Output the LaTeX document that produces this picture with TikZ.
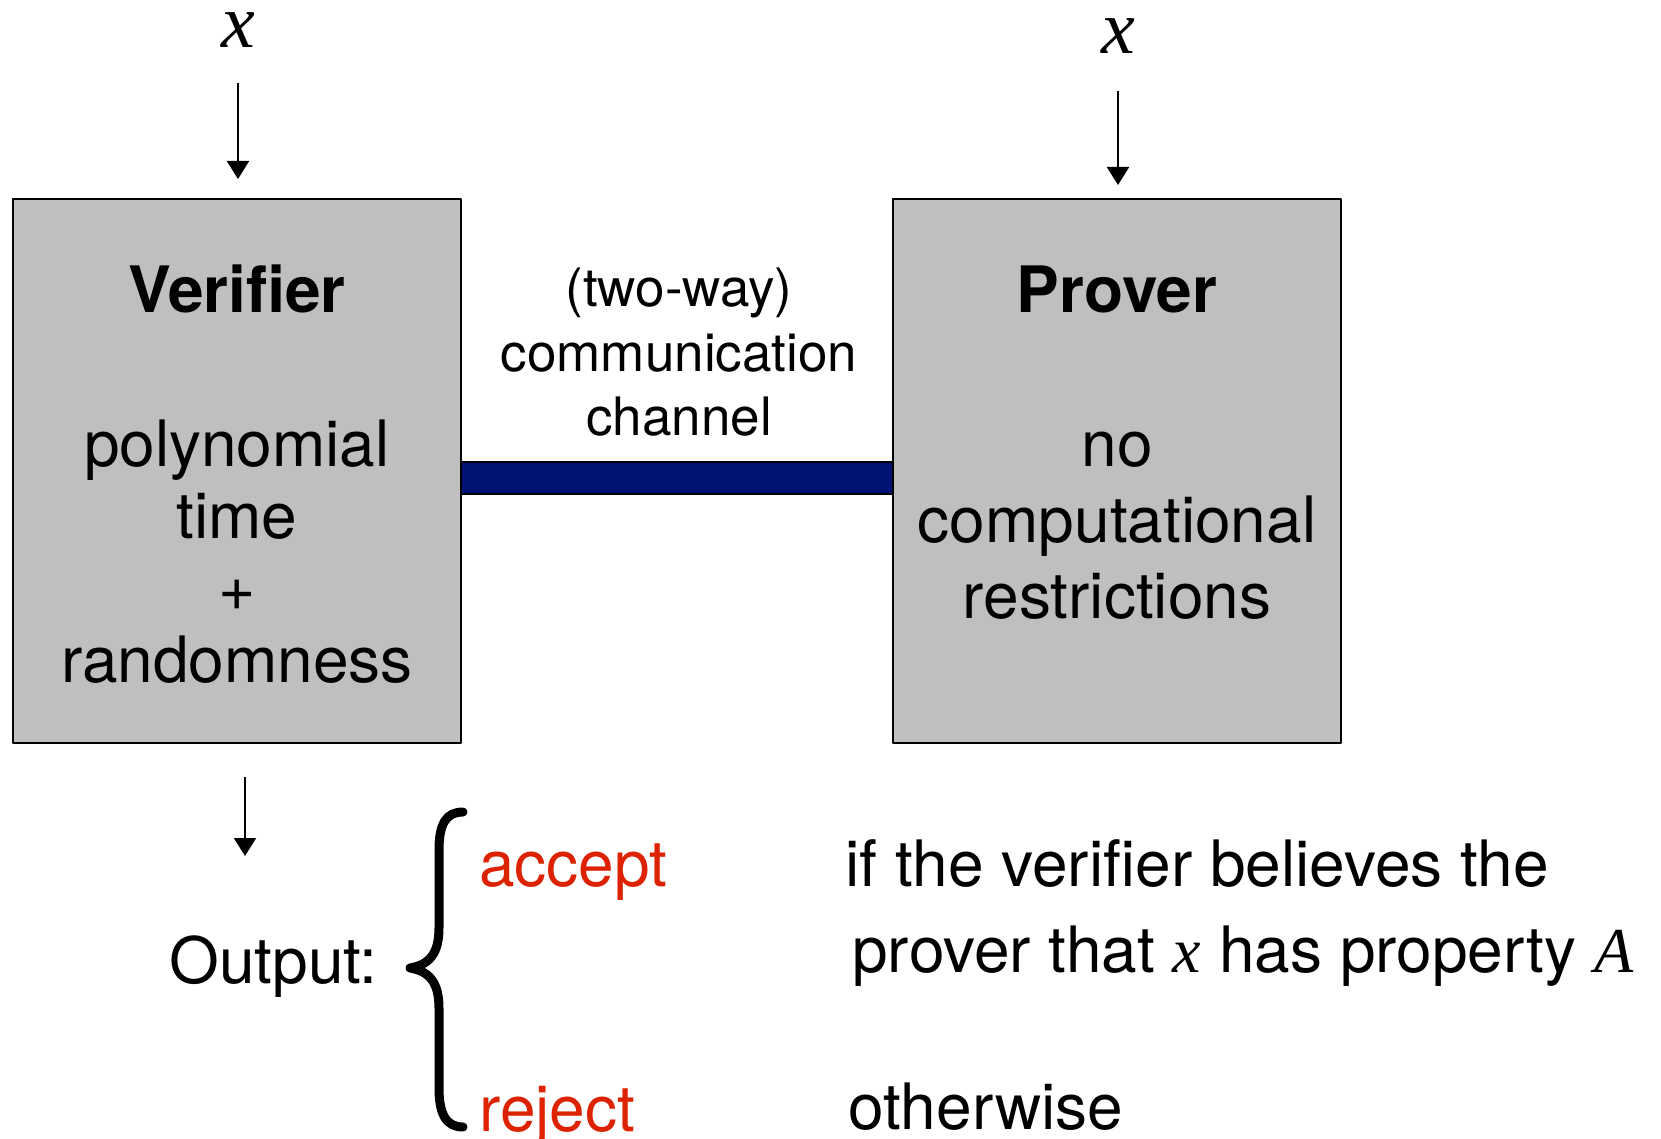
\documentclass[tikz,border=0pt]{standalone}
\usepackage{fontspec}
\setmainfont{TeX Gyre Heros}
\newfontfamily\timesfont{Liberation Serif}
\usetikzlibrary{arrows.meta}
\definecolor{boxgray}{RGB}{191,192,190}
\definecolor{chanblue}{RGB}{0,19,116}
\definecolor{answerred}{RGB}{221,34,0}
\newcommand{\var}[1]{{\timesfont\itshape #1}}
\begin{document}
\begin{tikzpicture}[x=0.5pt,y=-0.5pt,line join=round,>={Triangle[width=11pt,length=9pt]},
	box/.style={draw=black,line width=1pt,fill=boxgray,minimum width=224pt,minimum height=272pt,inner sep=0pt},
	txt/.style={inner sep=0pt,align=center,font=\fontsize{32}{36}\selectfont},
	title/.style={txt,font=\fontsize{32}{36}\selectfont\bfseries},
	small/.style={txt,font=\fontsize{26.5}{32.3}\selectfont},
	bigx/.style={inner sep=0pt,font=\fontsize{38}{40}\selectfont},
	arr/.style={->,line width=1pt}]
	\useasboundingbox (0,0) rectangle (1661,1139);
	% boxes
	\node[box] (verifier) at (237,471) {};
	\node[box] (prover) at (1117,471) {};
	\draw[line width=1pt,double=chanblue,double distance=15pt] ([yshift=-3.5pt]verifier.east) -- ([yshift=-3.5pt]prover.west);
	% texts in boxes (base = last line)
	\node[title,anchor=base] (vtitle) at (237,313) {Verifier};
	\node[txt,anchor=base] (vbody) at (237,682) {polynomial\\time\\+\\randomness};
	\node[title,anchor=base] (ptitle) at (1117,313) {Prover};
	\node[txt,anchor=base,font=\fontsize{32}{38}\selectfont] (pbody) at (1117,618) {no\\computational\\restrictions};
	\node[small,anchor=base] (chan) at (679,436) {(two-way)\\communication\\channel};
	% inputs
	\node[bigx,anchor=base] (xv) at (238,48) {\var{x}};
	\node[bigx,anchor=base] (xp) at (1118,54) {\var{x}};
	\draw[arr,shorten <=17.5pt,shorten >=9.5pt] (xv) -- (xv |- verifier.north);
	\draw[arr,shorten <=18.5pt,shorten >=6.5pt] (xp) -- (xp |- prover.north);
	% output
	\coordinate (outtip) at (245,856);
	\draw[arr,shorten <=16.5pt] (outtip |- verifier.south) -- (outtip);
	\node[txt,anchor=base west] (output) at (169,983) {Output:};
	\draw[line width=4.5pt,line cap=round] (463,812) .. controls (446,812) and (439,824) .. (439,850) -- (439,928)
		.. controls (439,955) and (428,965) .. (410,968) .. controls (428,971) and (439,981) .. (439,1008)
		-- (439,1088) .. controls (439,1114) and (446,1127) .. (463,1127);
	\node[txt,anchor=base west,text=answerred] (accept) at (479,886) {accept};
	\node[txt,anchor=base west,text=answerred] (reject) at (479,1131) {reject};
	\node[txt,anchor=base west] (ifline) at (845,886) {if the verifier believes the};
	\node[txt,anchor=base west] (propline) at (852,972) {prover that \var{x} has property \var{A}};
	\node[txt,anchor=base west] (otherwise) at (848,1129) {otherwise};
\end{tikzpicture}
\end{document}
